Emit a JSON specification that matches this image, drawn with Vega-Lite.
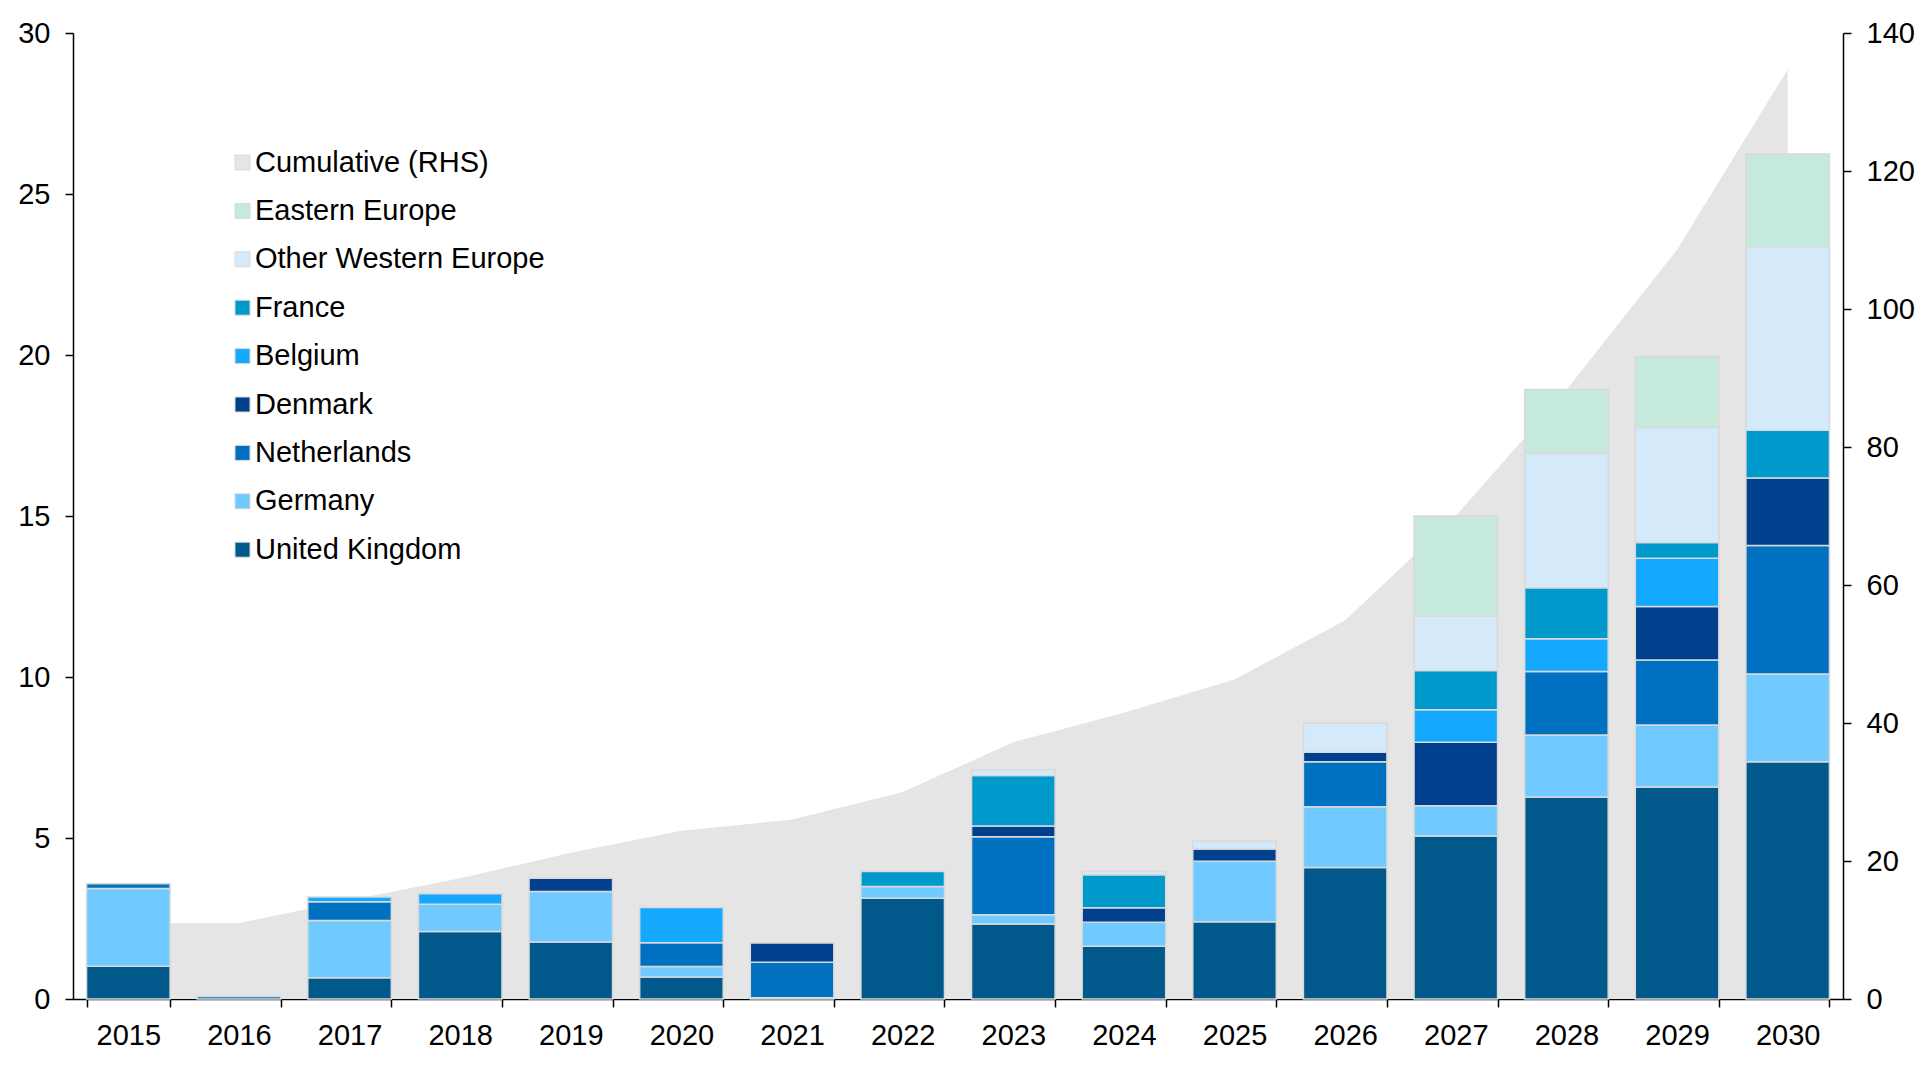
{
  "$schema": "https://vega.github.io/schema/vega-lite/v6.json",
  "width": 1770,
  "height": 966,
  "autosize": {"type": "none"},
  "padding": {"left": 73, "top": 33, "right": 77, "bottom": 68},
  "background": "white",
  "datasets": {
    "bars": [
      {"year": "2015", "series": "United Kingdom", "value": 1.02},
      {"year": "2015", "series": "Germany", "value": 2.41},
      {"year": "2015", "series": "Netherlands", "value": 0.15},
      {"year": "2016", "series": "Netherlands", "value": 0.08},
      {"year": "2017", "series": "United Kingdom", "value": 0.66},
      {"year": "2017", "series": "Germany", "value": 1.78},
      {"year": "2017", "series": "Netherlands", "value": 0.58},
      {"year": "2017", "series": "Belgium", "value": 0.15},
      {"year": "2018", "series": "United Kingdom", "value": 2.1},
      {"year": "2018", "series": "Germany", "value": 0.84},
      {"year": "2018", "series": "Belgium", "value": 0.33},
      {"year": "2019", "series": "United Kingdom", "value": 1.77},
      {"year": "2019", "series": "Germany", "value": 1.57},
      {"year": "2019", "series": "Denmark", "value": 0.41},
      {"year": "2020", "series": "United Kingdom", "value": 0.68},
      {"year": "2020", "series": "Germany", "value": 0.33},
      {"year": "2020", "series": "Netherlands", "value": 0.74},
      {"year": "2020", "series": "Belgium", "value": 1.09},
      {"year": "2021", "series": "United Kingdom", "value": 0.04},
      {"year": "2021", "series": "Netherlands", "value": 1.1},
      {"year": "2021", "series": "Denmark", "value": 0.6},
      {"year": "2022", "series": "United Kingdom", "value": 3.13},
      {"year": "2022", "series": "Germany", "value": 0.36},
      {"year": "2022", "series": "France", "value": 0.47},
      {"year": "2023", "series": "United Kingdom", "value": 2.33},
      {"year": "2023", "series": "Germany", "value": 0.29},
      {"year": "2023", "series": "Netherlands", "value": 2.42},
      {"year": "2023", "series": "Denmark", "value": 0.33},
      {"year": "2023", "series": "France", "value": 1.57},
      {"year": "2023", "series": "Other Western Europe", "value": 0.18},
      {"year": "2024", "series": "United Kingdom", "value": 1.64},
      {"year": "2024", "series": "Germany", "value": 0.74},
      {"year": "2024", "series": "Denmark", "value": 0.45},
      {"year": "2024", "series": "France", "value": 1.03},
      {"year": "2024", "series": "Other Western Europe", "value": 0.1},
      {"year": "2025", "series": "United Kingdom", "value": 2.4},
      {"year": "2025", "series": "Germany", "value": 1.88},
      {"year": "2025", "series": "Denmark", "value": 0.38},
      {"year": "2025", "series": "Other Western Europe", "value": 0.24},
      {"year": "2026", "series": "United Kingdom", "value": 4.08},
      {"year": "2026", "series": "Germany", "value": 1.89},
      {"year": "2026", "series": "Netherlands", "value": 1.4},
      {"year": "2026", "series": "Denmark", "value": 0.29},
      {"year": "2026", "series": "Other Western Europe", "value": 0.91},
      {"year": "2027", "series": "United Kingdom", "value": 5.06},
      {"year": "2027", "series": "Germany", "value": 0.94},
      {"year": "2027", "series": "Denmark", "value": 1.97},
      {"year": "2027", "series": "Belgium", "value": 1.01},
      {"year": "2027", "series": "France", "value": 1.22},
      {"year": "2027", "series": "Other Western Europe", "value": 1.69},
      {"year": "2027", "series": "Eastern Europe", "value": 3.11},
      {"year": "2028", "series": "United Kingdom", "value": 6.27},
      {"year": "2028", "series": "Germany", "value": 1.93},
      {"year": "2028", "series": "Netherlands", "value": 1.97},
      {"year": "2028", "series": "Belgium", "value": 1.02},
      {"year": "2028", "series": "France", "value": 1.58},
      {"year": "2028", "series": "Other Western Europe", "value": 4.19},
      {"year": "2028", "series": "Eastern Europe", "value": 1.97},
      {"year": "2029", "series": "United Kingdom", "value": 6.58},
      {"year": "2029", "series": "Germany", "value": 1.93},
      {"year": "2029", "series": "Netherlands", "value": 2.02},
      {"year": "2029", "series": "Denmark", "value": 1.66},
      {"year": "2029", "series": "Belgium", "value": 1.5},
      {"year": "2029", "series": "France", "value": 0.49},
      {"year": "2029", "series": "Other Western Europe", "value": 3.57},
      {"year": "2029", "series": "Eastern Europe", "value": 2.2},
      {"year": "2030", "series": "United Kingdom", "value": 7.37},
      {"year": "2030", "series": "Germany", "value": 2.72},
      {"year": "2030", "series": "Netherlands", "value": 3.99},
      {"year": "2030", "series": "Denmark", "value": 2.1},
      {"year": "2030", "series": "France", "value": 1.48},
      {"year": "2030", "series": "Other Western Europe", "value": 5.71},
      {"year": "2030", "series": "Eastern Europe", "value": 2.87}
    ],
    "cumulative": [
      {"year": "2015", "series": "Cumulative (RHS)", "value": 11.0},
      {"year": "2016", "series": "Cumulative (RHS)", "value": 11.0},
      {"year": "2017", "series": "Cumulative (RHS)", "value": 14.3},
      {"year": "2018", "series": "Cumulative (RHS)", "value": 17.5},
      {"year": "2019", "series": "Cumulative (RHS)", "value": 21.2},
      {"year": "2020", "series": "Cumulative (RHS)", "value": 24.4},
      {"year": "2021", "series": "Cumulative (RHS)", "value": 26.0},
      {"year": "2022", "series": "Cumulative (RHS)", "value": 30.0},
      {"year": "2023", "series": "Cumulative (RHS)", "value": 37.2},
      {"year": "2024", "series": "Cumulative (RHS)", "value": 41.5},
      {"year": "2025", "series": "Cumulative (RHS)", "value": 46.3},
      {"year": "2026", "series": "Cumulative (RHS)", "value": 54.9},
      {"year": "2027", "series": "Cumulative (RHS)", "value": 70.0},
      {"year": "2028", "series": "Cumulative (RHS)", "value": 88.3},
      {"year": "2029", "series": "Cumulative (RHS)", "value": 108.6},
      {"year": "2030", "series": "Cumulative (RHS)", "value": 134.7}
    ]
  },
  "encoding": {
    "x": {
      "field": "year",
      "type": "ordinal",
      "title": null,
      "scale": {"paddingInner": 0.245, "paddingOuter": 0.1225},
      "axis": {"labelAngle": 0, "tickBand": "extent", "labelPadding": 14}
    }
  },
  "layer": [
    {
      "data": {"name": "cumulative"},
      "mark": {"type": "area", "opacity": 1},
      "encoding": {
        "y": {
          "field": "value",
          "type": "quantitative",
          "title": null,
          "scale": {"domain": [0, 140], "nice": false},
          "axis": {"orient": "right", "values": [0, 20, 40, 60, 80, 100, 120, 140]}
        },
        "color": {"field": "series", "type": "nominal"}
      }
    },
    {
      "data": {"name": "bars"},
      "transform": [
        {"calculate": "indexof(['Eastern Europe', 'Other Western Europe', 'France', 'Belgium', 'Denmark', 'Netherlands', 'Germany', 'United Kingdom'], datum.series)", "as": "stack_rank"}
      ],
      "mark": {"type": "bar", "stroke": "#d9d9d9", "strokeWidth": 1.5, "opacity": 1},
      "encoding": {
        "y": {
          "field": "value",
          "type": "quantitative",
          "stack": "zero",
          "title": null,
          "scale": {"domain": [0, 30], "nice": false},
          "axis": {"orient": "left", "values": [0, 5, 10, 15, 20, 25, 30]}
        },
        "order": {"field": "stack_rank", "type": "quantitative", "sort": "descending"},
        "color": {
          "field": "series",
          "type": "nominal",
          "sort": ["Cumulative (RHS)", "Eastern Europe", "Other Western Europe", "France", "Belgium", "Denmark", "Netherlands", "Germany", "United Kingdom"],
          "scale": {
            "domain": ["Cumulative (RHS)", "Eastern Europe", "Other Western Europe", "France", "Belgium", "Denmark", "Netherlands", "Germany", "United Kingdom"],
            "range": ["#e5e5e5", "#c5eadb", "#d4eafb", "#0099cb", "#14a8ff", "#00408c", "#0070c0", "#70c9ff", "#00598a"]
          },
          "legend": {
            "title": null,
            "orient": "none",
            "legendX": 155,
            "legendY": 115,
            "symbolType": "square",
            "symbolSize": 225,
            "symbolOpacity": 1,
            "symbolStrokeColor": "#d9d9d9",
            "symbolStrokeWidth": 1,
            "labelFontSize": 29,
            "labelColor": "black",
            "labelLimit": 0,
            "labelOffset": -2,
            "rowPadding": 18.4,
            "padding": 0
          }
        }
      }
    }
  ],
  "resolve": {"scale": {"y": "independent"}},
  "config": {
    "font": "Liberation Sans",
    "view": {"stroke": null},
    "axis": {
      "grid": false,
      "labelFont": "Liberation Sans",
      "labelFontSize": 29,
      "labelColor": "black",
      "domainColor": "black",
      "domainWidth": 1.5,
      "tickColor": "black",
      "tickWidth": 1.5,
      "tickSize": 8,
      "labelPadding": 15
    },
    "legend": {"labelFont": "Liberation Sans"}
  }
}
